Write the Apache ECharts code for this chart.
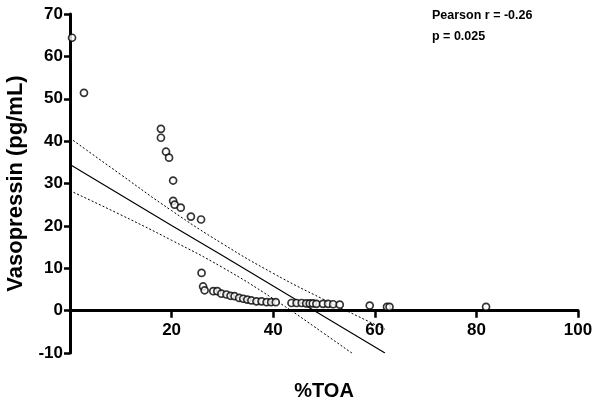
<!DOCTYPE html>
<html>
<head>
<meta charset="utf-8">
<script src="https://cdn.jsdelivr.net/npm/echarts@6/dist/echarts.min.js"></script>
<style>
    html, body { margin: 0; padding: 0; background: #fff; }
    #chart { width: 600px; height: 408px; }
</style>
</head>
<body>
<div id="chart"></div>
<script>
// scatter points: [%TOA, vasopressin]
const points = [
    [0.4, 64.4], [2.75, 51.4],
    [17.9, 42.9], [17.9, 40.8], [18.9, 37.5], [19.5, 36.1], [20.3, 30.7],
    [20.3, 25.9], [20.6, 25.0], [21.8, 24.3], [23.8, 22.2], [25.8, 21.5],
    [25.9, 8.9], [26.2, 5.7], [26.5, 4.8], [28.2, 4.6], [29.0, 4.6],
    [29.8, 4.0], [30.8, 3.8], [31.6, 3.5], [32.4, 3.4], [33.3, 3.0],
    [34.1, 2.8], [34.9, 2.6], [35.7, 2.4], [36.7, 2.2], [37.7, 2.2],
    [38.7, 2.0], [39.6, 2.0], [40.5, 2.0],
    [43.6, 1.8], [44.6, 1.8], [45.6, 1.8], [46.5, 1.7], [47.2, 1.7],
    [47.8, 1.7], [48.5, 1.6], [49.8, 1.6], [50.8, 1.6], [51.8, 1.5],
    [53.1, 1.4], [59.0, 1.2], [62.4, 0.9], [62.9, 0.9], [81.9, 0.9]
]
// regression line and 95% band
const fitX = [0, 10, 20, 30, 40, 50, 62]
const fitLine = [34.5, 27.3, 20.1, 13.0, 5.8, -1.4, -10.0]
const bandUpper = [40.7, 32.1, 23.6, 15.8, 8.8, 2.6, -4.4]
const bandLower = [28.3, 22.6, 16.6, 10.2, 2.8, -5.4, -15.6]
const xTicks = { min: 0, max: 100, step: 20 }
const yTicks = { min: -10, max: 70, step: 10 }

const font = 'Liberation Sans, Arial, sans-serif'
const pair = (ys) => fitX.map((x, i) => [x, ys[i]])

const gridTop = 14, gridBottom = 55, height = 408
// lift the x axis up to y = 0 (labels stay with it that way)
const zeroOffset = -(height - gridTop - gridBottom) * (0 - yTicks.min) / (yTicks.max - yTicks.min)

const chart = echarts.init(document.getElementById('chart'))
chart.setOption({
    animation: false,
    grid: { left: 70, right: 22, top: gridTop, bottom: gridBottom, outerBoundsMode: 'none', containLabel: false },
    xAxis: {
        type: 'value',
        min: xTicks.min,
        max: xTicks.max,
        interval: xTicks.step,
        position: 'bottom',
        offset: zeroOffset,
        name: '%TOA',
        nameLocation: 'middle',
        nameGap: 71,
        nameTextStyle: { fontFamily: font, fontWeight: 'bold', fontSize: 20, color: '#000' },
        axisLine: { onZero: false, lineStyle: { color: '#000', width: 3 } },
        axisTick: { length: 7, lineStyle: { color: '#000', width: 2.5 } },
        axisLabel: {
            showMinLabel: false,
            margin: 11,
            fontFamily: font, fontWeight: 'bold', fontSize: 17, color: '#000'
        },
        splitLine: { show: false }
    },
    yAxis: {
        type: 'value',
        min: yTicks.min,
        max: yTicks.max,
        interval: yTicks.step,
        name: 'Vasopressin (pg/mL)',
        nameLocation: 'middle',
        nameGap: 43,
        nameTextStyle: { fontFamily: font, fontWeight: 'bold', fontSize: 22, color: '#000' },
        axisLine: { show: true, onZero: false, lineStyle: { color: '#000', width: 3 } },
        axisTick: { show: true, length: 6, lineStyle: { color: '#000', width: 2.5 } },
        axisLabel: { margin: 7, fontFamily: font, fontWeight: 'bold', fontSize: 17, color: '#000' },
        splitLine: { show: false }
    },
    graphic: [
        {
            type: 'text', left: 432, top: 9,
            style: { text: 'Pearson r = -0.26', fontFamily: font, fontWeight: 'bold', fontSize: 12.5, fill: '#000' }
        },
        {
            type: 'text', left: 432, top: 30,
            style: { text: 'p = 0.025', fontFamily: font, fontWeight: 'bold', fontSize: 12.5, fill: '#000' }
        }
    ],
    series: [
        {
            type: 'line', data: pair(bandUpper), smooth: true, symbol: 'none',
            lineStyle: { color: '#000', width: 1, type: [2, 2] }
        },
        {
            type: 'line', data: pair(bandLower), smooth: true, symbol: 'none',
            lineStyle: { color: '#000', width: 1, type: [2, 2] }
        },
        {
            type: 'line', data: pair(fitLine), symbol: 'none',
            lineStyle: { color: '#000', width: 1.2 }
        },
        {
            type: 'scatter', data: points, symbol: 'circle', symbolSize: 7,
            itemStyle: { color: '#fff', borderColor: '#000', borderWidth: 1.7 },
            z: 5
        }
    ]
})
</script>
</body>
</html>
